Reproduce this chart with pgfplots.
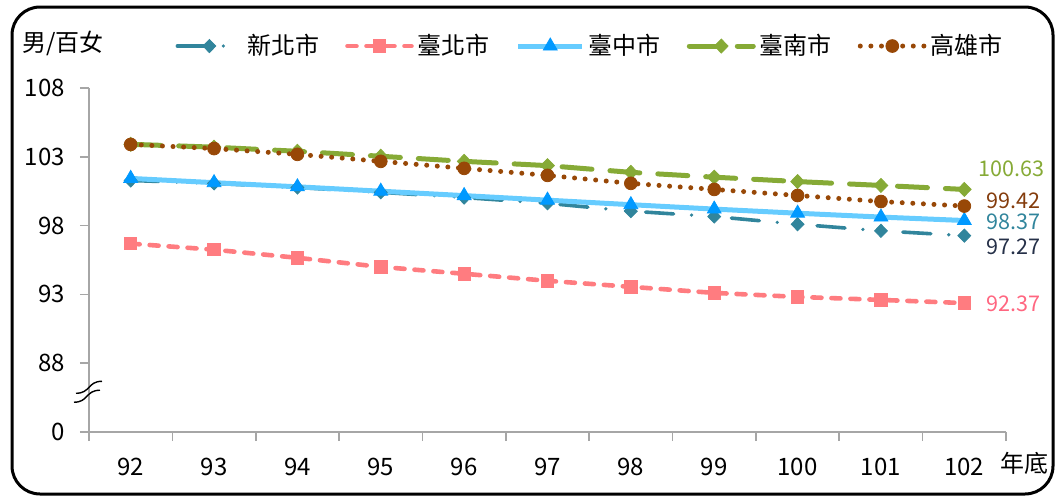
\documentclass[border=0pt]{standalone}
\usepackage{pgfplots}
\pgfplotsset{compat=1.18}
\usepackage{fontspec}
\setmainfont{Noto Sans CJK TC}
\definecolor{cXB}{HTML}{31859C}
\definecolor{cTP}{HTML}{FF7C80}
\definecolor{cTCl}{HTML}{66CCFF}
\definecolor{cTCm}{HTML}{0099FF}
\definecolor{cTN}{HTML}{86AA36}
\definecolor{cKH}{HTML}{984807}
\definecolor{axgray}{HTML}{A6A6A6}
\definecolor{lXB}{HTML}{31859C}
\definecolor{lNavy}{HTML}{253048}
\definecolor{lTP}{HTML}{FF6680}
\definecolor{lKH}{HTML}{843C0C}
\begin{document}
\begin{tikzpicture}
\useasboundingbox (0pt,0pt) rectangle (527.5pt,250pt);
\draw[line width=1.5pt, rounded corners=14pt] (6pt,3pt) rectangle (526.5pt,246.5pt);
\begin{axis}[
  at={(44.5pt,34pt)}, anchor=south west,
  scale only axis, width=458.5pt, height=172pt,
  xmin=91.5, xmax=102.5, ymin=83, ymax=108,
  clip=false,
  axis x line=bottom, axis y line=left,
  axis line style={-, axgray, line width=0.8pt},
  xtick={92,...,102},
  minor xtick={91.5,92.5,...,102.5},
  major x tick style={draw=none},
  ytick={83,88,93,98,103,108},
  yticklabels={0,88,93,98,103,108},
  tick align=outside,
  major tick length=4.5pt, minor tick length=4.5pt,
  tick style={axgray, line width=0.8pt},
  minor tick style={axgray, line width=0.8pt},
  /pgf/number format/assume math mode=true,
  xticklabel style={font=\fontsize{12}{14}\selectfont, yshift=-5pt},
  yticklabel style={font=\fontsize{12}{14}\selectfont, xshift=-4pt},
  xticklabel={\pgfmathprintnumber[int detect]{\tick}},
  legend columns=5,
  legend cell align=left,
  legend style={at={(0.094,1.122)}, anchor=west, draw=none, fill=none,
    inner sep=0pt, font=\fontsize{12}{14}\selectfont,
    /tikz/every even column/.append style={column sep=11pt}},
  legend image code/.code={
    \draw[mark repeat=2,mark phase=2,#1] plot coordinates {(0pt,0pt) (16pt,0pt) (32pt,0pt)};
  },
]
\addplot[color=cXB, line width=1.8pt, line cap=round,
  dash pattern=on 14pt off 9pt on 0pt off 10pt on 0pt off 10pt,
  mark=diamond*, mark size=3.3pt, mark options={solid, fill=cXB, line width=0.4pt, xscale=1.3}]
  coordinates {(92,101.28) (93,101.07) (94,100.77) (95,100.42) (96,100.04) (97,99.62) (98,99.05) (99,98.66) (100,98.10) (101,97.62) (102,97.27)};
\addlegendentry{新北市}
\addplot[color=cTP, line width=2.3pt, line cap=round,
  dash pattern=on 4.5pt off 5pt,
  mark=square*, mark size=3.1pt, mark options={solid, fill=cTP, line width=0.4pt}]
  coordinates {(92,96.69) (93,96.25) (94,95.66) (95,95.00) (96,94.50) (97,93.99) (98,93.55) (99,93.11) (100,92.82) (101,92.60) (102,92.37)};
\addlegendentry{臺北市}
\addplot[color=cTCl, line width=2.5pt,
  mark=triangle*, mark size=4pt, mark options={solid, fill=cTCm, draw=cTCm, line width=0.4pt}]
  coordinates {(92,101.43) (93,101.12) (94,100.82) (95,100.50) (96,100.18) (97,99.85) (98,99.52) (99,99.20) (100,98.90) (101,98.62) (102,98.37)};
\addlegendentry{臺中市}
\addplot[color=cTN, line width=2.5pt, line cap=round,
  dash pattern=on 15pt off 9pt,
  mark=diamond*, mark size=3.5pt, mark options={solid, fill=cTN, line width=0.4pt, xscale=1.3}]
  coordinates {(92,103.91) (93,103.70) (94,103.40) (95,103.04) (96,102.67) (97,102.36) (98,101.87) (99,101.52) (100,101.20) (101,100.92) (102,100.63)};
\addlegendentry{臺南市}
\addplot[color=cKH, line width=2.5pt, line cap=round,
  dash pattern=on 0pt off 5.3pt,
  mark=*, mark size=3.2pt, mark options={solid, fill=cKH, line width=0.4pt}]
  coordinates {(92,103.90) (93,103.60) (94,103.18) (95,102.67) (96,102.16) (97,101.65) (98,101.07) (99,100.63) (100,100.19) (101,99.75) (102,99.42)};
\addlegendentry{高雄市}
% value labels
\node[anchor=west, text=cTN, font=\fontsize{10.8}{12}\selectfont, inner sep=0pt] at (axis cs:102.16,102.16) {100.63};
\node[anchor=west, text=lKH, font=\fontsize{10.8}{12}\selectfont, inner sep=0pt] at (axis cs:102.26,99.82) {99.42};
\node[anchor=west, text=lXB, font=\fontsize{10.8}{12}\selectfont, inner sep=0pt] at (axis cs:102.26,98.29) {98.37};
\node[anchor=west, text=lNavy, font=\fontsize{10.8}{12}\selectfont, inner sep=0pt] at (axis cs:102.26,96.47) {97.27};
\node[anchor=west, text=lTP, font=\fontsize{10.8}{12}\selectfont, inner sep=0pt] at (axis cs:102.26,92.31) {92.37};
% axis break
\draw[black, line width=0.7pt] (axis cs:91.5,86.25) ++(-6.5pt,-3pt) to[out=0,in=180,looseness=1.3] ++(13pt,6pt);
\draw[black, line width=0.7pt] (axis cs:91.5,85.6) ++(-7.5pt,-3pt) to[out=0,in=180,looseness=1.3] ++(13pt,6pt);
\end{axis}
\node[anchor=west, font=\fontsize{12}{14}\selectfont, inner sep=0pt] at (11pt,228.5pt) {男/百女};
\node[anchor=west, font=\fontsize{12}{14}\selectfont, inner sep=0pt] at (500pt,18.5pt) {年底};
\end{tikzpicture}
\end{document}
